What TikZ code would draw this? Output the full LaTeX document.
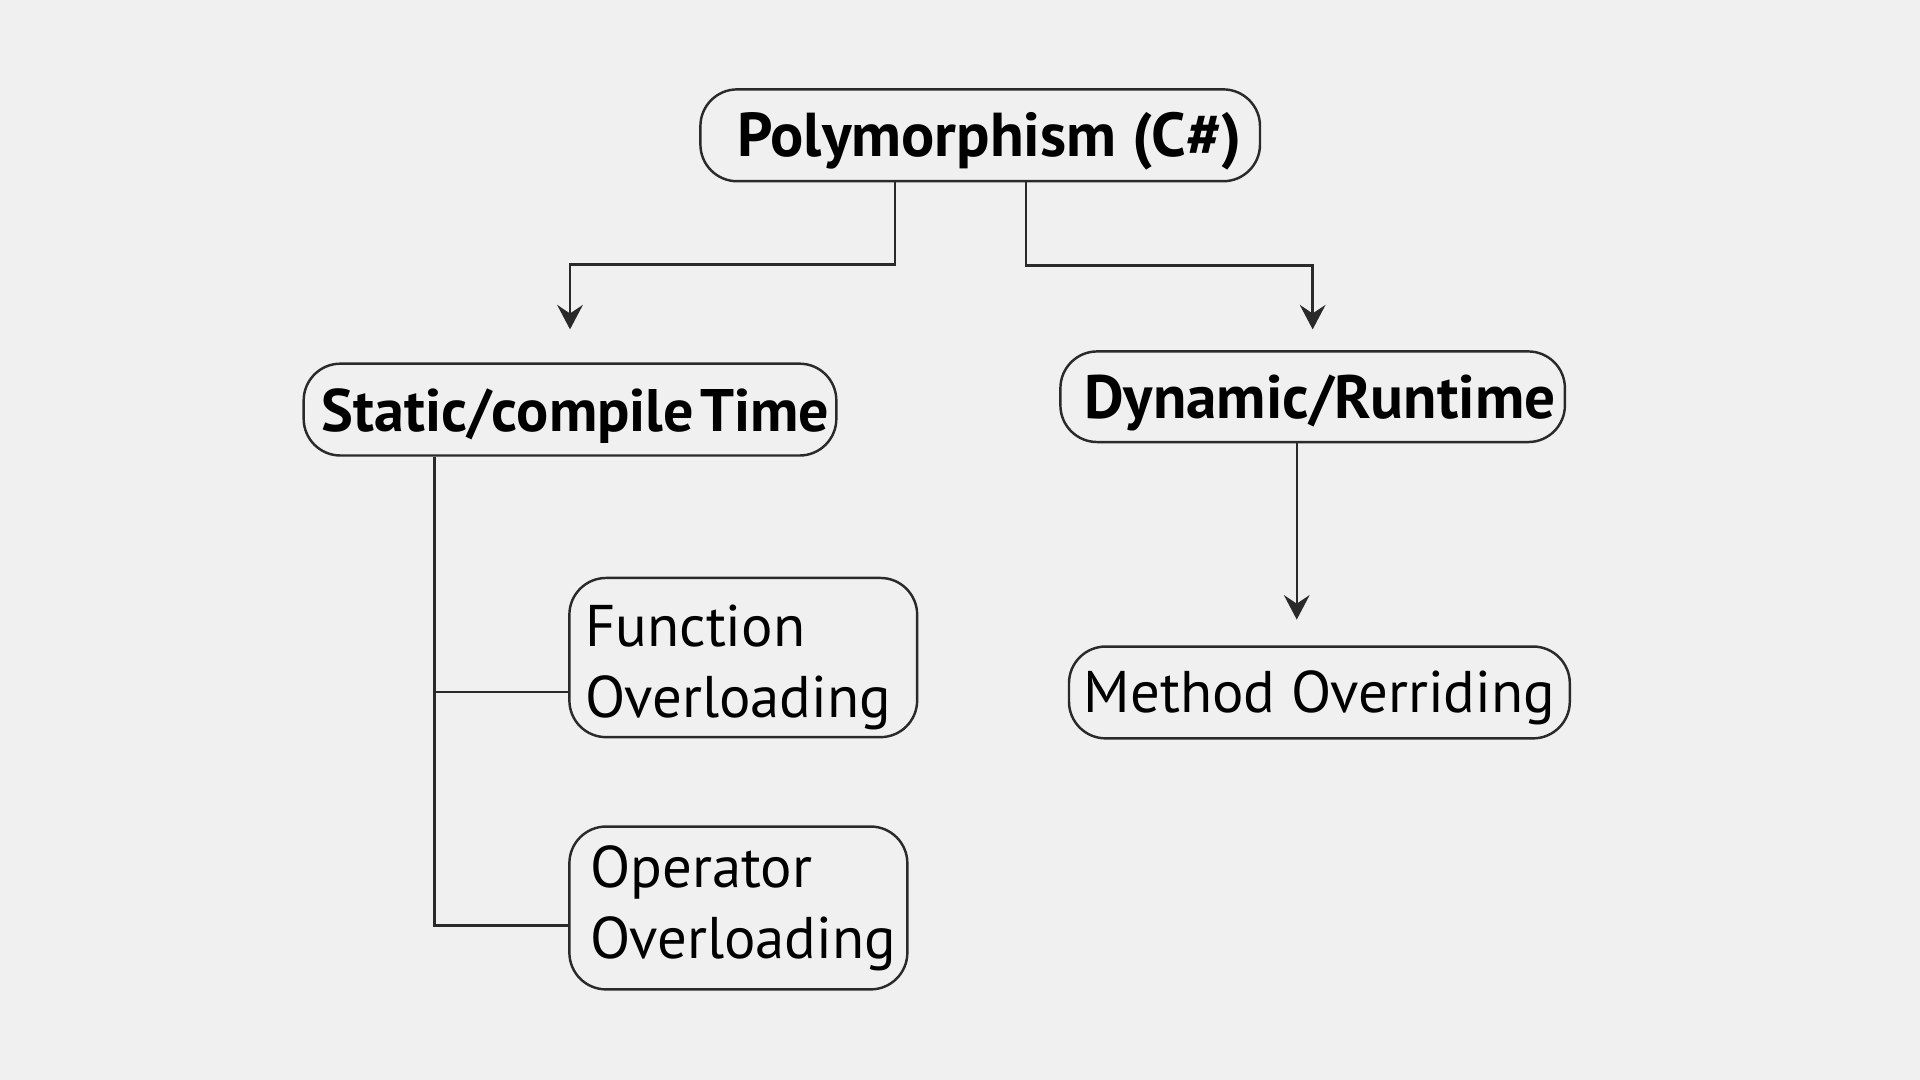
\documentclass[tikz,border=0pt]{standalone}
\usepackage{fontspec}
\setmainfont{PT Sans}
\usetikzlibrary{arrows.meta}
\definecolor{bg}{HTML}{F0F0F0}
\definecolor{ln}{HTML}{2A2A2A}
\begin{document}
\begin{tikzpicture}[x=0.5pt,y=-0.5pt,
  box/.style={draw=ln,line width=1pt,rounded corners=15pt,inner sep=0pt},
  boldlbl/.style={font=\fontsize{25}{28}\selectfont\bfseries},
  reglbl/.style={font=\fontsize{24}{29}\selectfont},
  conn/.style={draw=ln,line width=1pt},
  arr/.style={conn,-{Stealth[length=10pt,width=10.5pt,inset=3.5pt]}}]
\fill[bg] (0,0) rectangle (1568,882);
\useasboundingbox (0,0) rectangle (1568,882);

\node[box,font=\fontsize{25.3}{28}\selectfont\bfseries,minimum width=228.5pt,text height=27.5pt,text depth=10pt] (poly) at (800.5,110.5) {\hspace*{7.5pt}Polymorphism (C\#)};
\node[box,font=\fontsize{24.5}{28}\selectfont\bfseries,minimum width=217.5pt,text height=27.5pt,text depth=10pt] (static) at (465.5,334.5) {\hspace*{4.5pt}Static/compile\hspace{2.5pt}Time};
\node[box,boldlbl,minimum width=206pt,text height=27.5pt,text depth=9.5pt] (dynamic) at (1072,324) {\hspace*{6pt}Dynamic/Runtime};
\node[box,reglbl,minimum width=204.5pt,text height=27pt,text depth=10.5pt] (method) at (1077.5,565.5) {Method Overriding};
\node[box,reglbl,minimum width=142pt,minimum height=65pt,text width=142pt,align=left] (func) at (607,537) {\hspace*{6.5pt}\rule{0pt}{25pt}Function\\\hspace*{6.5pt}Overloading};
\node[box,reglbl,minimum width=138pt,minimum height=66.5pt,text width=138pt,align=left] (oper) at (603,741.5) {\hspace*{8.5pt}Operator\\\hspace*{8.5pt}Overloading};

\coordinate (jl) at (731,216);
\coordinate (jr) at (838,217);
\coordinate (dm) at (1059,440);
\coordinate (fb) at (355,565);
\coordinate (ob) at (355,756);

\draw[arr,shorten >=13.5pt] (poly.south -| jl) -- (jl) -| (static.north);
\draw[arr,shorten >=8.5pt] (poly.south -| jr) -- (jr) -| (dynamic.north);
\draw[arr,shorten >=10.5pt] (dynamic.south -| dm) -- (method.north -| dm);
\draw[conn] (static.south -| ob) -- (ob) -- (oper.west |- ob);
\draw[conn] (fb) -- (func.west |- fb);
\end{tikzpicture}
\end{document}
